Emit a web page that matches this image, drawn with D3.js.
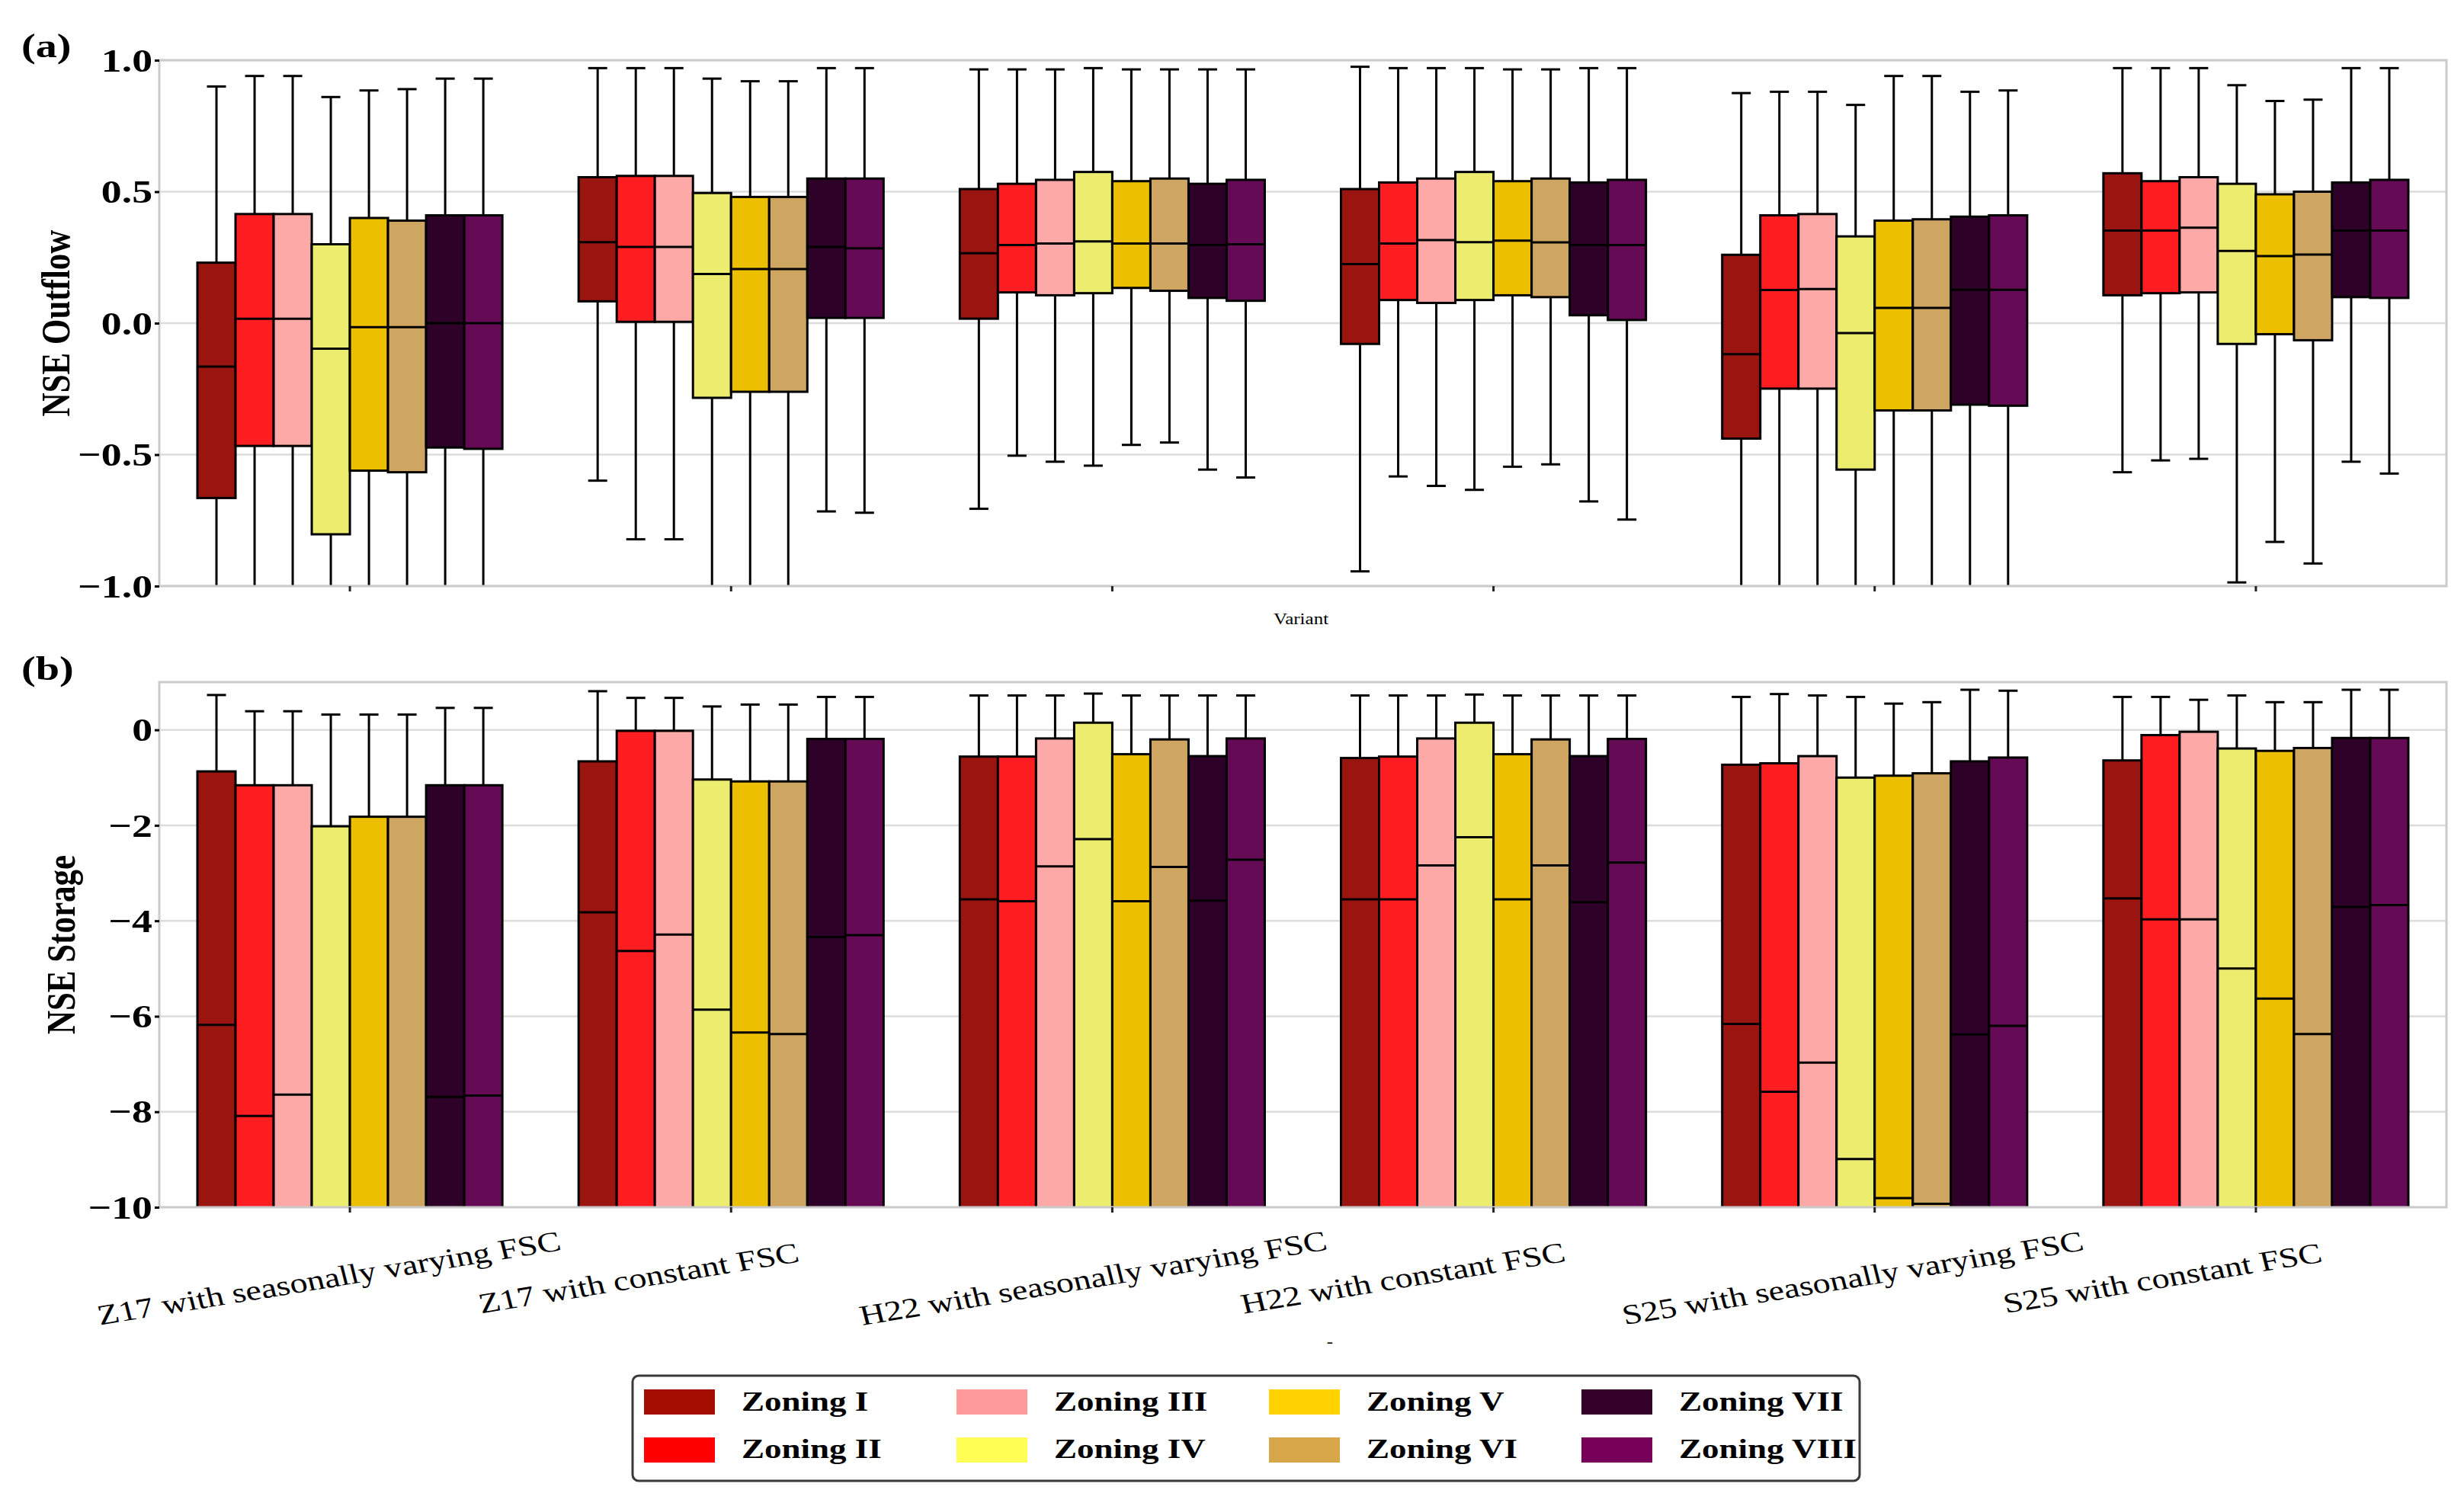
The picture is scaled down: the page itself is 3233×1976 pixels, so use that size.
<!DOCTYPE html>
<html>
<head>
<meta charset="utf-8">
<script src="https://cdn.jsdelivr.net/npm/d3@7"></script>
<style>
  html, body { margin: 0; padding: 0; background: #ffffff; }
  svg { display: block; }
</style>
</head>
<body>
<svg id="chart" width="3233" height="1976"></svg>
<script>
// ---------------- DATA ----------------
const variants = [
  "Z17 with seasonally varying FSC",
  "Z17 with constant FSC",
  "H22 with seasonally varying FSC",
  "H22 with constant FSC",
  "S25 with seasonally varying FSC",
  "S25 with constant FSC"
];
const zones = ["Zoning I", "Zoning II", "Zoning III", "Zoning IV",
               "Zoning V", "Zoning VI", "Zoning VII", "Zoning VIII"];
const boxColors    = ["#9a1410", "#fe1d20", "#fda9a8", "#ecec6f",
                      "#edbf01", "#cea661", "#2e0128", "#650a55"];
const legendColors = ["#a30c00", "#ff0000", "#ff9a9a", "#ffff55",
                      "#ffd200", "#d6a648", "#33002a", "#770058"];

const outflowTicks = [-1.0, -0.5, 0.0, 0.5, 1.0];
const outflowTickLabels = ["\u22121.0", "\u22120.5", "0.0", "0.5", "1.0"];
const storageTicks = [-10, -8, -6, -4, -2, 0];
const storageTickLabels = ["\u221210", "\u22128", "\u22126", "\u22124", "\u22122", "0"];

// NSE Outflow (panel a): rows = variants, columns = zonings. null = beyond the axis bottom
const outflowHigh = [
  [0.90, 0.94, 0.94, 0.86, 0.885, 0.89, 0.93, 0.93],
  [0.97, 0.97, 0.97, 0.93, 0.92, 0.92, 0.97, 0.97],
  [0.965, 0.965, 0.965, 0.97, 0.965, 0.965, 0.965, 0.965],
  [0.975, 0.97, 0.97, 0.97, 0.965, 0.965, 0.97, 0.97],
  [0.875, 0.88, 0.88, 0.83, 0.94, 0.94, 0.88, 0.885],
  [0.97, 0.97, 0.97, 0.905, 0.845, 0.85, 0.97, 0.97]
];
const outflowQ3 = [
  [0.23, 0.415, 0.415, 0.30, 0.40, 0.39, 0.41, 0.41],
  [0.555, 0.56, 0.56, 0.495, 0.48, 0.48, 0.55, 0.55],
  [0.51, 0.53, 0.545, 0.575, 0.54, 0.55, 0.53, 0.545],
  [0.51, 0.535, 0.55, 0.575, 0.54, 0.55, 0.535, 0.545],
  [0.26, 0.41, 0.415, 0.33, 0.39, 0.395, 0.405, 0.41],
  [0.57, 0.54, 0.555, 0.53, 0.49, 0.50, 0.535, 0.545]
];
const outflowMedian = [
  [-0.165, 0.017, 0.017, -0.097, -0.015, -0.015, 0.0, 0.0],
  [0.308, 0.29, 0.29, 0.187, 0.206, 0.206, 0.29, 0.285],
  [0.266, 0.297, 0.303, 0.311, 0.303, 0.303, 0.297, 0.30],
  [0.225, 0.303, 0.316, 0.308, 0.314, 0.307, 0.297, 0.297],
  [-0.118, 0.126, 0.13, -0.038, 0.058, 0.058, 0.127, 0.127],
  [0.352, 0.352, 0.363, 0.275, 0.255, 0.261, 0.352, 0.352]
];
const outflowQ1 = [
  [-0.665, -0.467, -0.467, -0.803, -0.561, -0.567, -0.473, -0.478],
  [0.083, 0.005, 0.005, -0.284, -0.261, -0.261, 0.02, 0.02],
  [0.017, 0.117, 0.106, 0.114, 0.134, 0.123, 0.096, 0.085],
  [-0.079, 0.088, 0.077, 0.088, 0.106, 0.099, 0.03, 0.012],
  [-0.439, -0.249, -0.249, -0.557, -0.332, -0.332, -0.31, -0.314],
  [0.106, 0.114, 0.117, -0.079, -0.042, -0.065, 0.099, 0.096]
];
const outflowLow = [
  [null, null, null, null, null, null, null, null],
  [-0.599, -0.822, -0.822, null, null, null, -0.716, -0.721],
  [-0.706, -0.504, -0.527, -0.542, -0.463, -0.454, -0.557, -0.587],
  [-0.944, -0.583, -0.619, -0.634, -0.546, -0.537, -0.678, -0.747],
  [null, null, null, null, null, null, null, null],
  [-0.567, -0.522, -0.516, -0.986, -0.832, -0.914, -0.527, -0.572]
];

// NSE Storage (panel b)
const storageHigh = [
  [0.73, 0.39, 0.39, 0.32, 0.32, 0.32, 0.46, 0.46],
  [0.81, 0.67, 0.67, 0.49, 0.53, 0.53, 0.69, 0.69],
  [0.72, 0.72, 0.72, 0.76, 0.72, 0.72, 0.72, 0.72],
  [0.72, 0.72, 0.72, 0.74, 0.72, 0.72, 0.72, 0.72],
  [0.69, 0.75, 0.72, 0.69, 0.55, 0.58, 0.84, 0.82],
  [0.69, 0.69, 0.63, 0.72, 0.58, 0.58, 0.84, 0.84]
];
const storageQ3 = [
  [-0.87, -1.16, -1.16, -2.02, -1.82, -1.82, -1.16, -1.16],
  [-0.66, -0.02, -0.02, -1.04, -1.08, -1.08, -0.19, -0.19],
  [-0.56, -0.56, -0.18, 0.15, -0.51, -0.20, -0.55, -0.18],
  [-0.59, -0.56, -0.18, 0.15, -0.51, -0.20, -0.55, -0.19],
  [-0.73, -0.70, -0.55, -1.00, -0.96, -0.91, -0.66, -0.58],
  [-0.64, -0.11, -0.04, -0.39, -0.44, -0.38, -0.17, -0.17]
];
const storageMedian = [
  [-6.18, -8.09, -7.64, null, null, null, -7.69, -7.66],
  [-3.82, -4.63, -4.29, -5.86, -6.34, -6.37, -4.34, -4.30],
  [-3.55, -3.59, -2.86, -2.29, -3.59, -2.87, -3.58, -2.72],
  [-3.55, -3.55, -2.84, -2.25, -3.55, -2.84, -3.61, -2.78],
  [-6.16, -7.58, -6.97, -8.99, -9.81, -9.93, -6.38, -6.20],
  [-3.53, -3.97, -3.97, -5.00, -5.63, -6.37, -3.71, -3.67]
];
const storageQ1 = [
  [null, null, null, null, null, null, null, null],
  [null, null, null, null, null, null, null, null],
  [null, null, null, null, null, null, null, null],
  [null, null, null, null, null, null, null, null],
  [null, null, null, null, null, null, null, null],
  [null, null, null, null, null, null, null, null]
];
const storageLow = [
  [null, null, null, null, null, null, null, null],
  [null, null, null, null, null, null, null, null],
  [null, null, null, null, null, null, null, null],
  [null, null, null, null, null, null, null, null],
  [null, null, null, null, null, null, null, null],
  [null, null, null, null, null, null, null, null]
];

// ---------------- LAYOUT ----------------
const SX = 1.25; // the figure is horizontally stretched
const FONT = "'Liberation Serif','Times New Roman',Times,serif";
const X0 = 209, X1 = 3210;
const svg = d3.select("#chart");
svg.append("rect").attr("width", 3233).attr("height", 1976).attr("fill", "#fff");

const xg = d3.scaleBand().domain(variants).range([X0, X1]).padding(0);
const gw = xg.bandwidth();
const xz = d3.scaleBand().domain(zones).range([gw * 0.1, gw * 0.9]).padding(0);
const bw = xz.bandwidth();

function sText(parent, x, y, str, o) {
  o = o || {};
  const t = parent.append("text")
    .attr("transform", `translate(${x},${y}) scale(${SX},1)` + (o.rot ? ` rotate(${o.rot})` : ""))
    .attr("font-family", FONT)
    .attr("font-size", o.size || 40)
    .attr("font-weight", o.bold ? "bold" : "normal")
    .attr("text-anchor", o.anchor || "start")
    .attr("fill", "#000")
    .text(str);
  if (o.baseline) t.attr("dominant-baseline", o.baseline);
  return t;
}

const panels = [
  { id: "a", top: 79, bottom: 769, domain: [-1, 1], ticks: outflowTicks, labels: outflowTickLabels,
    title: "NSE Outflow", titleX: 91, letterY: 75,
    hi: outflowHigh, q3: outflowQ3, med: outflowMedian, q1: outflowQ1, lo: outflowLow },
  { id: "b", top: 895, bottom: 1584, domain: [-10, 1], ticks: storageTicks, labels: storageTickLabels,
    title: "NSE Storage", titleX: 98, letterY: 892,
    hi: storageHigh, q3: storageQ3, med: storageMedian, q1: storageQ1, lo: storageLow }
];

panels.forEach(p => {
  const y = d3.scaleLinear().domain(p.domain).range([p.bottom, p.top]);
  const hidden = p.bottom + 30;

  svg.append("clipPath").attr("id", "clip-" + p.id)
    .append("rect").attr("x", X0).attr("y", p.top).attr("width", X1 - X0).attr("height", p.bottom - p.top);

  // grid
  svg.append("g").selectAll("line").data(p.ticks).join("line")
    .attr("x1", X0).attr("x2", X1)
    .attr("y1", d => y(d)).attr("y2", d => y(d))
    .attr("stroke", "#dcdcdc").attr("stroke-width", 2.5);

  const gBoxes = svg.append("g").attr("clip-path", `url(#clip-${p.id})`);
  variants.forEach((v, gi) => {
    zones.forEach((z, zi) => {
      const left = xg(v) + xz(z);
      const cx = left + bw / 2;
      const hi = p.hi[gi][zi], q3 = p.q3[gi][zi], med = p.med[gi][zi],
            q1 = p.q1[gi][zi], lo = p.lo[gi][zi];
      const yq1 = q1 == null ? hidden : y(q1);
      const ylo = lo == null ? hidden : y(lo);
      const g = gBoxes.append("g").attr("stroke", "#000").attr("stroke-width", 3);
      g.append("line").attr("x1", cx).attr("x2", cx).attr("y1", y(hi)).attr("y2", y(q3));
      g.append("line").attr("x1", cx - bw / 4).attr("x2", cx + bw / 4).attr("y1", y(hi)).attr("y2", y(hi));
      g.append("line").attr("x1", cx).attr("x2", cx).attr("y1", yq1).attr("y2", ylo);
      if (lo != null) g.append("line").attr("x1", cx - bw / 4).attr("x2", cx + bw / 4).attr("y1", ylo).attr("y2", ylo);
      g.append("rect").attr("x", left).attr("width", bw)
        .attr("y", y(q3)).attr("height", yq1 - y(q3))
        .attr("fill", boxColors[zi]);
      if (med != null) g.append("line").attr("x1", left).attr("x2", left + bw).attr("y1", y(med)).attr("y2", y(med));
    });
  });

  // frame
  svg.append("rect").attr("x", X0).attr("y", p.top).attr("width", X1 - X0).attr("height", p.bottom - p.top)
    .attr("fill", "none").attr("stroke", "#cbcbcb").attr("stroke-width", 3);

  // y axis
  const ya = svg.append("g").attr("transform", `translate(${X0},0)`)
    .call(d3.axisLeft(y).tickValues(p.ticks).tickSize(6).tickFormat((d, i) => p.labels[i]));
  ya.select(".domain").remove();
  ya.selectAll(".tick line").attr("stroke", "#000").attr("stroke-width", 3);
  ya.selectAll(".tick text")
    .attr("x", null).attr("dy", null)
    .attr("transform", `translate(-9,0) scale(${SX},1)`)
    .attr("dominant-baseline", "central")
    .attr("font-family", FONT).attr("font-size", 43).attr("font-weight", "bold").attr("fill", "#000");

  // x axis ticks
  const xa = svg.append("g").attr("transform", `translate(0,${p.bottom})`)
    .call(d3.axisBottom(xg).tickSize(7).tickFormat(""));
  xa.select(".domain").remove();
  xa.selectAll(".tick line").attr("stroke", "#222").attr("stroke-width", 3);

  // y title
  sText(svg, p.titleX, (p.top + p.bottom) / 2, p.title, { size: 43, bold: true, anchor: "middle", rot: -90 });
  // panel letter
  sText(svg, 28, p.letterY, `(${p.id})`, { size: 45, bold: true });
});

// x axis title of panel (a) and the tiny one of panel (b)
sText(svg, 1707, 812, "Variant", { size: 20, anchor: "middle", baseline: "central" });
sText(svg, 1745, 1760, "-", { size: 20, anchor: "middle", baseline: "central" });

// rotated variant labels under panel (b)
const ROT = 11.5, LSIZE = 37;
variants.forEach(v => {
  const t = sText(svg, 0, 0, v, { size: LSIZE, anchor: "middle", baseline: "central", rot: -ROT });
  const L = t.node().getComputedTextLength();
  const r = ROT * Math.PI / 180;
  const ext = SX * (L * Math.cos(r) + 0.88 * LSIZE * Math.sin(r));
  const tick = xg(v) + gw / 2;
  const cx = tick - 335 + ext / 2;
  t.attr("transform", `translate(${cx},1677) scale(${SX},1) rotate(${-ROT})`);
});

// legend
const LX = 830, LY = 1805;
svg.append("rect").attr("x", LX).attr("y", LY).attr("width", 1610).attr("height", 138)
  .attr("rx", 8).attr("fill", "#fff").attr("stroke", "#3a3a3a").attr("stroke-width", 3);
zones.forEach((z, i) => {
  const col = Math.floor(i / 2), row = i % 2;
  const sx = LX + 15 + col * 410;
  svg.append("rect").attr("x", sx).attr("y", LY + 18 + row * 63).attr("width", 93).attr("height", 33)
    .attr("fill", legendColors[i]);
  sText(svg, sx + 128, LY + 46 + row * 62, z, { size: 36, bold: true });
});
</script>
</body>
</html>
